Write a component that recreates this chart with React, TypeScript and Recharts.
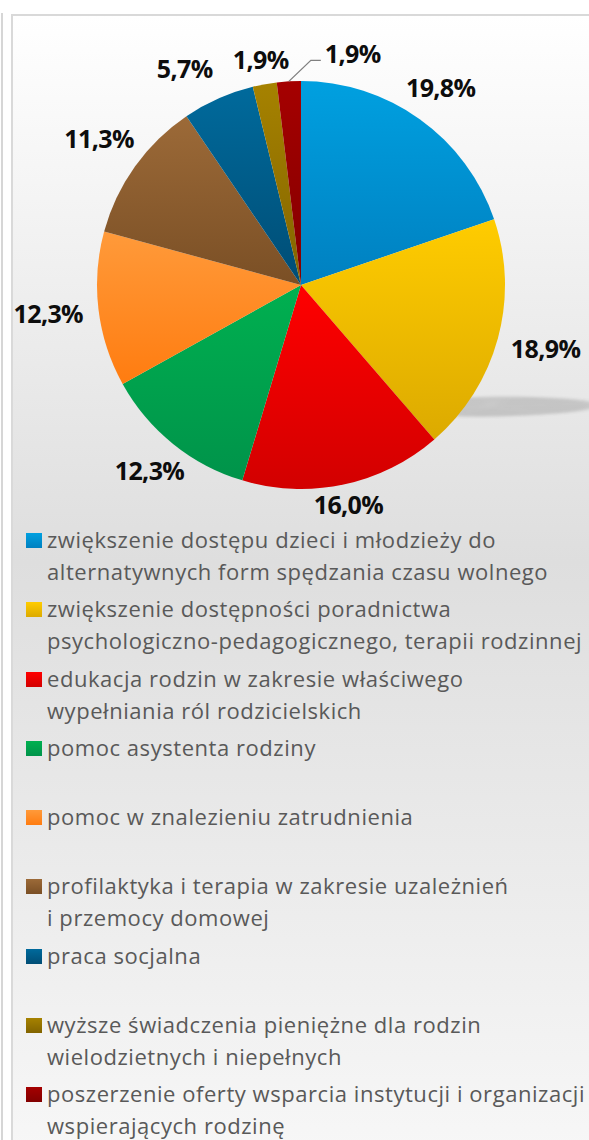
import React from 'react';
import { PieChart, Pie, Cell, Legend } from 'recharts';

const categories = [
  'zwiększenie dostępu dzieci i\u00a0młodzieży do alternatywnych form spędzania czasu wolnego',
  'zwiększenie dostępności poradnictwa psychologiczno-pedagogicznego, terapii rodzinnej',
  'edukacja rodzin w zakresie właściwego wypełniania ról rodzicielskich',
  'pomoc asystenta rodziny',
  'pomoc w znalezieniu zatrudnienia',
  'profilaktyka i\u00a0terapia w zakresie uzależnień i\u00a0przemocy domowej',
  'praca socjalna',
  'wyższe świadczenia pieniężne dla rodzin wielodzietnych i\u00a0niepełnych',
  'poszerzenie oferty wsparcia instytucji i\u00a0organizacji wspierających rodzinę',
];

const shares = [19.8, 18.9, 16.0, 12.3, 12.3, 11.3, 5.7, 1.9, 1.9];

const colorTop = ['#00a0e0', '#ffcc00', '#ff0000', '#00b050', '#ff9a3a', '#9c6a38', '#006a9c', '#a68200', '#a50000'];
const colorBottom = ['#0080c0', '#dcaa00', '#d20000', '#00934a', '#ff7c10', '#7a4f25', '#004d75', '#826400', '#820000'];

const data = categories.map((name, i) => ({ name, value: shares[i] }));

const RAD = Math.PI / 180;
const LW = 66;
const LH = 17;

const fmt = (v: number) => v.toFixed(1).replace('.', ',') + '%';

const naturalPos = (cx: number, cy: number, R: number, mid: number) => {
  const cos = Math.cos(-mid * RAD);
  const sin = Math.sin(-mid * RAD);
  const gap = 8 + 10 * (1 - Math.abs(sin));
  const d = R + gap + (LW / 2) * Math.abs(cos) + (LH / 2) * Math.abs(sin);
  return { x: cx + d * cos, y: cy + d * sin - 3 };
};

// horizontal shifts to resolve overlaps between neighbouring labels
const labelShifts = (cx: number, cy: number, R: number) => {
  const total = shares.reduce((a, b) => a + b, 0);
  let cum = 0;
  const pos = shares.map((v) => {
    const mid = 90 - (360 * (cum + v / 2)) / total;
    cum += v;
    return naturalPos(cx, cy, R, mid);
  });
  const pad = 10;
  const shifts = shares.map(() => 0);
  for (let i = shares.length - 3; i >= 0; i--) {
    const a = { x: pos[i].x + shifts[i], y: pos[i].y };
    const b = { x: pos[i + 1].x + shifts[i + 1], y: pos[i + 1].y };
    const overlapX = Math.abs(a.x - b.x) < LW + pad;
    const overlapY = Math.abs(a.y - b.y) < LH + 2;
    if (overlapX && overlapY) {
      const need = LW + pad - Math.abs(a.x - b.x);
      shifts[i] += a.x < b.x ? -need : need;
    }
  }
  return shifts;
};

const labelStyle = {
  fontFamily: '"Open Sans", sans-serif',
  fontWeight: 700,
  fontSize: 25,
  letterSpacing: '-0.6px',
  fill: '#0d0d0d',
} as React.CSSProperties;

const renderLabel = (props: any) => {
  const { cx, cy, midAngle, outerRadius, index, value, percent } = props;
  const cos = Math.cos(-midAngle * RAD);
  const sin = Math.sin(-midAngle * RAD);
  const text = fmt(value);
  if (index === shares.length - 1 && percent < 0.03) {
    const ax = cx + outerRadius * cos;
    const ay = cy + outerRadius * sin;
    const ex = ax + 22;
    const ey = ay - 21;
    const fx = ex + 10;
    return (
      <g>
        <polyline points={`${ax},${ay} ${ex},${ey} ${fx},${ey}`} fill="none" stroke="#808080" strokeWidth={1.3} />
        <text x={fx + 4} y={ey - 7} textAnchor="start" dominantBaseline="central" style={labelStyle}>
          {text}
        </text>
      </g>
    );
  }
  const p = naturalPos(cx, cy, outerRadius, midAngle);
  const shift = labelShifts(cx, cy, outerRadius)[index] || 0;
  return (
    <text x={p.x + shift} y={p.y} textAnchor="middle" dominantBaseline="central" style={labelStyle}>
      {text}
    </text>
  );
};

const renderLegend = () => (
  <div style={{ position: 'relative', width: 589, fontFamily: '"Open Sans", sans-serif', fontSize: 22, letterSpacing: '0.55px', color: '#595959' }}>
    {categories.map((c, i) => (
      <div key={i} style={{ position: 'relative', height: 69.3 }}>
        <div
          style={{
            position: 'absolute',
            left: 26,
            top: 10,
            width: 16,
            height: 15,
            background: `linear-gradient(${colorTop[i]}, ${colorBottom[i]})`,
          }}
        />
        <div style={{ position: 'absolute', left: 47, top: 0, width: 542, lineHeight: '32px', whiteSpace: 'normal' }}>{c}</div>
      </div>
    ))}
  </div>
);

export default function App() {
  return (
    <div style={{ position: 'absolute', left: 0, top: 0, width: 589, height: 1140, overflow: 'hidden', background: '#fff' }}>
      <style>
        {'.pie-shadow{transform:matrix(0.72,0,-0.08,0.22,222,322);transform-origin:0 0;transform-box:view-box;filter:url(#pieBlur);opacity:0.45}'}
      </style>
      <div style={{ position: 'absolute', left: 1, top: 13, width: 2, height: 1140, background: '#d6d6d6' }} />
      <div
        style={{
          position: 'absolute',
          left: 11,
          top: 14,
          width: 620,
          height: 1160,
          border: '2px solid #d9d9d9',
          background: 'linear-gradient(#ffffff 0%, #dedede 47%, #f8f8f8 100%)',
        }}
      />
      <div style={{ position: 'absolute', left: 0, top: 0 }}>
        <PieChart width={589} height={1140}>
          <defs>
            {colorTop.map((c, i) => (
              <linearGradient key={i} id={`g${i}`} x1="0" y1="0" x2="0" y2="1">
                <stop offset="0%" stopColor={c} />
                <stop offset="100%" stopColor={colorBottom[i]} />
              </linearGradient>
            ))}
            <filter id="pieBlur" x="-20%" y="-40%" width="140%" height="180%">
              <feGaussianBlur stdDeviation="6" />
            </filter>
          </defs>
          <Pie
            className="pie-shadow"
            data={data}
            dataKey="value"
            cx={296}
            cy={280}
            outerRadius={204}
            startAngle={90}
            endAngle={-270}
            stroke="none"
            label={false}
            labelLine={false}
            isAnimationActive={false}
          >
            {data.map((_, i) => (
              <Cell key={i} fill="#3a3a3a" />
            ))}
          </Pie>
          <Pie
            data={data}
            dataKey="value"
            cx={296}
            cy={280}
            outerRadius={204}
            startAngle={90}
            endAngle={-270}
            stroke="none"
            label={renderLabel}
            labelLine={false}
            isAnimationActive={false}
          >
            {data.map((_, i) => (
              <Cell key={i} fill={`url(#g${i})`} />
            ))}
          </Pie>
          <Legend content={renderLegend} wrapperStyle={{ position: 'absolute', left: 0, top: 523, width: 589 }} />
        </PieChart>
      </div>
    </div>
  );
}
